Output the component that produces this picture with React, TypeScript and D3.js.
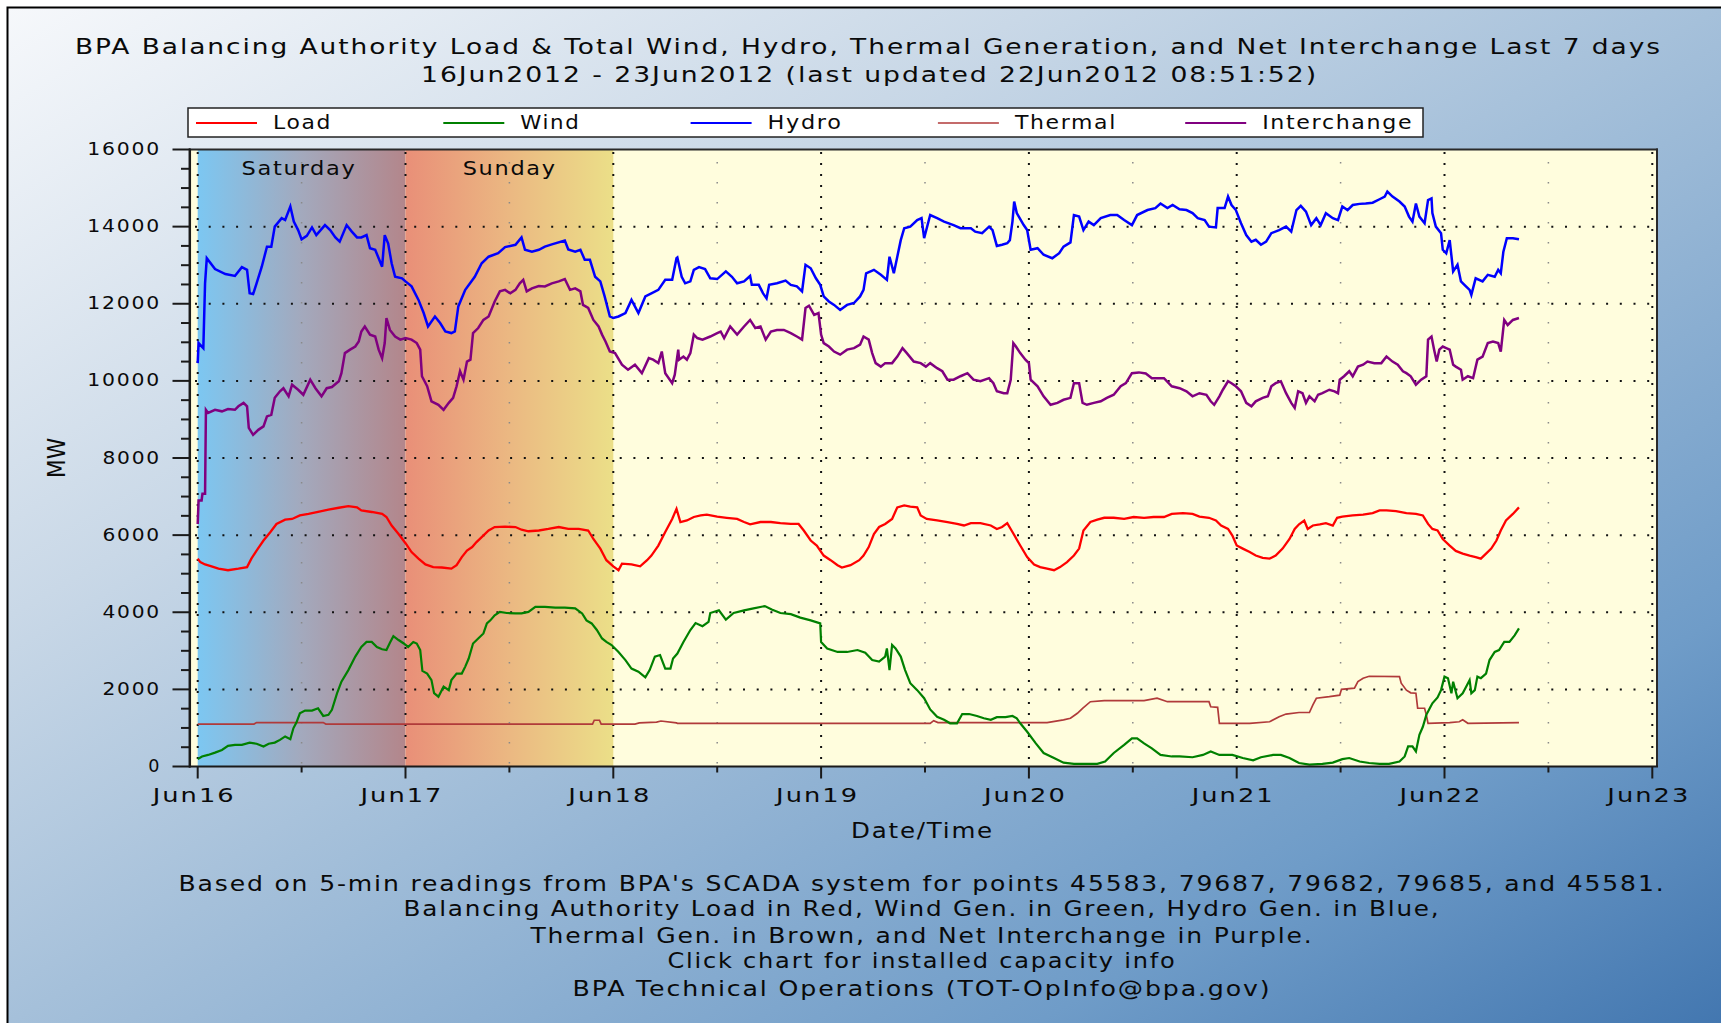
import React from "react";
import * as d3 from "d3";

// ---------- data (hours since 16Jun2012 00:00, MW) ----------
const dayLabels = ["Jun16", "Jun17", "Jun18", "Jun19", "Jun20", "Jun21", "Jun22", "Jun23"];
const yTicks = [0, 2000, 4000, 6000, 8000, 10000, 12000, 14000, 16000];
const legendNames = ["Load", "Wind", "Hydro", "Thermal", "Interchange"];
const legendWidths = [59, 60, 75, 102, 151];
const seriesColors = ["#ff0000", "#008000", "#0000ff", "#b03a3a", "#800080"];
const footerLines = [
  "Based on 5-min readings from BPA's SCADA system for points 45583, 79687, 79682, 79685, and 45581.",
  "Balancing Authority Load in Red, Wind Gen. in Green, Hydro Gen. in Blue,",
  "Thermal Gen. in Brown, and Net Interchange in Purple.",
  "Click chart for installed capacity info",
  "BPA Technical Operations (TOT-OpInfo@bpa.gov)",
];
const footerWidths = [1487, 1037, 783, 509, 699];

const hydro: [number, number][] = [
  [0,10460],[0.1,10980],[0.65,10850],[0.85,12530],[1.05,13180],[2.0,12900],[3.2,12770],[4.3,12720],[5.1,12950],[5.7,12880],[6.0,12270],[6.4,12250],[6.8,12530],[7.4,12960],[8.0,13480],[8.5,13480],[8.9,14000],[9.7,14220],[10.1,14170],[10.7,14520],[11.1,14130],[11.6,13910],[12.0,13670],[12.6,13760],[13.2,13980],[13.7,13780],[14.7,14040],[15.3,13910],[15.9,13720],[16.4,13610],[17.2,14040],[17.8,13870],[18.4,13720],[18.9,13720],[19.5,13780],[19.9,13440],[20.5,13400],[20.9,13180],[21.3,12960],[21.6,13780],[22.0,13560],[22.4,13050],[22.8,12700],[23.6,12660],[24.0,12580],[24.7,12450],[25.5,12100],[26.1,11760],[26.6,11410],[27.4,11670],[28.0,11500],[28.6,11280],[29.3,11240],[29.7,11280],[30.1,11930],[30.9,12360],[32.0,12700],[32.8,13050],[33.6,13220],[34.7,13310],[35.5,13470],[36.7,13530],[37.4,13720],[37.8,13400],[38.6,13350],[39.4,13400],[40.1,13480],[40.9,13540],[42.4,13640],[42.8,13410],[43.6,13350],[44.2,13400],[44.7,13140],[45.3,13140],[45.9,12700],[46.5,12580],[47.0,12190],[47.6,11670],[48.0,11630],[48.6,11670],[49.4,11760],[50.1,12100],[50.9,11760],[51.7,12190],[52.4,12270],[53.2,12360],[54.0,12620],[54.8,12620],[55.3,13180],
  [55.4,13200],[55.9,12700],[56.3,12530],[56.9,12580],[57.3,12880],[57.9,12950],[58.6,12900],[59.2,12660],[60.0,12640],[61.0,12840],[61.7,12700],[62.3,12530],[63.1,12580],[63.8,12720],[64.0,12490],[64.8,12490],[65.3,12270],[65.7,12140],[66.0,12490],[66.9,12530],[67.9,12600],[68.5,12490],[69.2,12450],[69.8,12320],[70.2,13010],[70.8,12920],[71.4,12660],[71.9,12490],[72.3,12190],[72.9,12060],[73.5,11970],[74.2,11840],[75.0,11970],[75.8,12020],[76.5,12190],[76.9,12360],[77.2,12790],[78.1,12880],[78.9,12750],[79.6,12620],[79.9,13220],[80.4,12790],[80.8,13220],[81.2,13650],[81.6,13960],[82.3,14000],[83.1,14170],[83.6,14220],[83.9,13700],[84.6,14300],[85.4,14220],[86.2,14130],[87.3,14040],[88.1,13960],[89.3,13960],[89.8,13870],[90.6,13830],[91.4,14000],[91.8,13910],[92.3,13500],[92.9,13530],[93.5,13570],[93.8,13650],[94.1,14130],[94.3,14650],[94.6,14350],[95.4,14040],[95.8,13910],[96.2,13400],[97.0,13440],[97.7,13270],[98.7,13180],[99.5,13310],[100.0,13480],[100.8,13590],[101.2,14300],[101.8,14260],[102.3,13910],[102.9,14130],[103.5,14040],[104.3,14220],[105.4,14300],[106.2,14300],[107.0,14170],[107.9,14040],[108.5,14300],[109.7,14430],[110.6,14480],[111.2,14600],[112.0,14480],
  [112.6,14560],[113.4,14450],[114.2,14430],[114.9,14350],[115.5,14220],[116.3,14170],[116.8,14000],[117.6,13980],[117.8,14480],[118.6,14480],[119.0,14780],[119.4,14560],[119.9,14430],[120.5,14090],[121.1,13780],[121.7,13610],[122.2,13660],[122.8,13530],[123.4,13610],[124.0,13830],[124.9,13910],[125.7,14000],[126.3,13870],[126.9,14430],[127.4,14540],[128.0,14390],[128.6,14040],[129.2,14220],[129.7,14040],[130.3,14350],[131.1,14220],[131.7,14170],[132.2,14520],[132.8,14430],[133.4,14560],[134.2,14590],[134.9,14600],[135.7,14620],[136.5,14710],[137.1,14780],[137.4,14910],[138.0,14780],[138.8,14650],[139.4,14520],[139.9,14260],[140.3,14130],[140.7,14600],[141.1,14260],[141.7,14090],[142.1,14690],[142.5,14730],[142.6,14350],[143.0,14000],[143.6,13830],[143.8,13400],[144.2,13310],[144.6,13650],[145.0,12840],[145.5,13010],[145.9,12580],[146.3,12490],[146.9,12360],[147.1,12230],[147.6,12660],[148.4,12580],[149.0,12750],[149.8,12700],[150.2,12880],[150.5,12790],[150.8,13350],[151.2,13700],[151.9,13700],[152.6,13670],
];

const interchange: [number, number][] = [
  [0,6290],[0.1,6900],[0.45,6900],[0.55,7070],[0.85,7070],[0.95,9250],[1.2,9170],[2.0,9250],[2.8,9210],[3.5,9270],[4.3,9250],[4.7,9340],[5.3,9430],[5.7,9340],[5.9,8780],[6.4,8600],[7.0,8730],[7.6,8820],[8.0,9080],[8.5,9120],[8.9,9560],[9.5,9730],[9.9,9810],[10.5,9600],[10.9,9900],[11.6,9770],[12.2,9640],[13.0,10030],[13.6,9810],[14.3,9600],[14.9,9810],[15.5,9840],[16.3,9990],[16.6,10200],[17.0,10720],[17.6,10810],[18.2,10890],[18.6,11020],[18.9,11280],[19.3,11410],[19.9,11200],[20.5,11150],[20.9,10810],[21.3,10590],[21.6,10980],[21.8,11630],[22.2,11320],[22.8,11150],[23.4,11070],[24.0,11110],[24.7,11070],[25.3,10980],[25.7,10810],[25.9,10120],[26.5,9860],[27.0,9470],[27.8,9380],[28.4,9250],[29.0,9430],[29.5,9560],[29.9,9860],[30.3,10250],[30.7,10030],[31.1,10500],[31.5,10550],[31.8,11240],[32.4,11370],[33.0,11580],[33.6,11670],[34.3,12060],[34.9,12320],[35.5,12360],[36.1,12270],[36.7,12360],[37.2,12530],[37.6,12620],[38.0,12320],[38.6,12400],[39.4,12460],[40.1,12450],[40.9,12530],[41.7,12580],[42.4,12640],[43.0,12360],[43.6,12400],[44.2,12320],[44.5,11970],[45.1,11890],[45.7,11580],[46.3,11410],[46.7,11200],[47.1,11020],[47.6,10760],[48.2,10720],[49.0,10420],[49.7,10290],[50.5,10420],[51.3,10200],[52.1,10590],[52.6,10550],[53.2,10460],[53.6,10760],[54.0,10200],[54.8,9940],[55.1,10160],
  [55.5,10810],[55.6,10550],[56.1,10630],[56.5,10550],[56.9,10720],[57.3,11200],[57.7,11110],[58.3,11070],[59.2,11150],[60.0,11240],[60.4,11280],[60.8,11110],[61.5,11410],[62.3,11200],[63.1,11410],[63.8,11580],[64.4,11370],[65.0,11410],[65.6,11070],[66.2,11280],[66.9,11320],[67.7,11320],[68.5,11240],[69.2,11150],[69.8,11070],[70.2,11890],[70.6,11950],[71.2,11710],[71.7,11760],[72.0,11200],[72.3,10980],[72.9,10890],[73.5,10760],[74.2,10680],[75.0,10810],[75.8,10850],[76.5,10940],[76.9,11150],[77.5,11070],[77.9,10720],[78.3,10460],[78.9,10370],[79.4,10460],[80.2,10460],[80.8,10630],[81.4,10850],[81.9,10720],[82.7,10500],[83.5,10460],[84.1,10370],[84.6,10460],[85.4,10330],[86.0,10250],[86.6,10030],[87.3,10030],[88.1,10120],[88.9,10200],[89.6,10030],[90.4,9990],[91.4,10070],[91.9,9940],[92.3,9730],[93.1,9680],[93.5,9680],[93.9,10030],[94.2,10980],[94.5,10890],[95.0,10720],[95.6,10550],[96.0,10460],[96.2,10030],[97.0,9860],[97.7,9600],[98.5,9380],[99.3,9430],[100.0,9510],[100.8,9560],[101.2,9940],[101.8,9940],[102.2,9430],[102.7,9380],[103.5,9430],[104.3,9470],[105.0,9560],[105.8,9640],[106.6,9860],[107.2,9940],[107.9,10200],[108.7,10220],[109.5,10190],[110.2,10070],[111.0,10070],[111.6,10070],[112.5,9860],
  [113.4,9810],[114.2,9730],[114.9,9600],[115.7,9680],[116.5,9640],[117.0,9470],[117.4,9380],[118.0,9600],[118.4,9770],[119.0,9990],[119.4,9940],[119.9,9860],[120.5,9730],[121.1,9430],[121.7,9340],[122.2,9470],[123.0,9560],[123.6,9600],[124.0,9860],[124.5,9940],[125.1,9990],[125.7,9680],[126.3,9430],[126.7,9300],[127.1,9730],[127.6,9680],[128.0,9430],[128.4,9600],[129.0,9470],[129.4,9640],[129.9,9680],[130.7,9770],[131.3,9730],[131.7,9680],[131.9,10030],[132.4,10120],[133.0,10250],[133.4,10120],[134.0,10370],[134.6,10420],[135.1,10500],[135.9,10460],[136.7,10460],[137.3,10630],[138.0,10500],[138.6,10420],[139.2,10250],[139.6,10200],[140.1,10120],[140.7,9900],[141.3,10030],[141.9,10120],[142.1,11070],[142.5,11150],[142.8,10810],[143.1,10500],[143.4,10810],[143.8,10890],[144.2,10850],[144.6,10810],[145.0,10420],[145.3,10370],[145.9,10290],[146.1,10030],[146.7,10120],[147.3,10070],[147.8,10550],[148.4,10630],[149.0,10980],[149.6,11020],[150.2,10980],[150.5,10760],[150.9,11580],[151.3,11450],[151.9,11580],[152.6,11630],
];

const load: [number, number][] = [
  [0,5390],[0.3,5300],[0.85,5240],[1.6,5190],[2.4,5130],[3.5,5090],[4.7,5130],[5.7,5170],[6.2,5390],[6.8,5600],[7.6,5860],[8.4,6080],[9.1,6290],[10.1,6400],[10.9,6420],[11.8,6510],[12.8,6550],[13.9,6600],[15.1,6660],[16.3,6710],[17.4,6750],[18.4,6720],[18.9,6640],[20.1,6600],[21.3,6550],[21.8,6470],[22.4,6250],[23.2,6030],[24.0,5790],[24.7,5560],[25.5,5390],[26.3,5240],[27.2,5170],[28.2,5160],[29.3,5130],[29.9,5220],[30.5,5430],[31.1,5600],[31.7,5690],[32.2,5820],[32.8,5950],[33.6,6120],[34.3,6210],[35.5,6220],[36.7,6210],[37.4,6140],[38.2,6100],[39.4,6120],[40.5,6160],[41.7,6210],[42.8,6160],[44.0,6160],[45.1,6120],[45.7,5900],[46.5,5650],[47.2,5350],[48.0,5190],[48.6,5090],[49.0,5260],[50.1,5240],[51.1,5190],[51.9,5350],[52.4,5470],[53.2,5730],[54.0,6080],[54.8,6420],[55.3,6680],
  [55.75,6340],[56.5,6380],[57.3,6470],[58.1,6510],[58.8,6530],[60.0,6480],[61.1,6450],[62.3,6420],[63.1,6340],[63.8,6280],[65.0,6340],[66.2,6340],[67.3,6310],[68.5,6290],[69.4,6290],[70.0,6120],[70.8,5860],[71.5,5730],[72.3,5470],[73.1,5350],[73.9,5220],[74.4,5160],[75.4,5220],[76.4,5350],[76.9,5470],[77.5,5690],[78.1,6030],[78.7,6210],[79.4,6290],[80.2,6420],[80.8,6720],[81.6,6770],[82.3,6740],[83.1,6720],[83.5,6510],[84.2,6420],[85.4,6380],[86.6,6340],[87.7,6290],[88.5,6250],[89.3,6310],[90.4,6310],[91.6,6250],[92.3,6160],[92.9,6210],[93.5,6310],[94.1,6080],[95.0,5730],[95.8,5430],[96.6,5240],[97.3,5170],[98.1,5130],[98.9,5090],[99.6,5170],[100.4,5300],[101.2,5470],[101.8,5650],[102.3,6120],[103.1,6340],[103.9,6400],[104.7,6450],[105.8,6450],[107.0,6420],[108.1,6470],[109.3,6450],[110.4,6470],[111.6,6470],[112.5,6550],
  [113.8,6570],[114.9,6550],[115.7,6480],[116.8,6450],[117.6,6380],[118.2,6250],[119.0,6160],[119.5,5990],[120.0,5730],[120.7,5650],[121.5,5560],[122.2,5470],[123.0,5410],[123.8,5390],[124.5,5470],[125.3,5650],[126.1,5900],[126.7,6160],[127.2,6280],[127.8,6380],[128.2,6160],[128.8,6250],[129.6,6280],[130.3,6310],[131.1,6250],[131.6,6450],[132.2,6480],[133.4,6510],[134.6,6530],[135.7,6570],[136.5,6640],[137.3,6640],[138.4,6620],[139.6,6570],[140.7,6550],[141.5,6510],[142.1,6290],[142.6,6160],[143.2,6120],[143.8,5900],[144.6,5730],[145.3,5590],[146.1,5520],[146.9,5470],[147.6,5430],[148.2,5390],[148.8,5520],[149.4,5650],[150.0,5860],[150.5,6120],[151.1,6380],[151.9,6550],[152.6,6720],
];

const wind: [number, number][] = [
  [0,190],[0.5,260],[1.2,300],[2.0,360],[2.8,430],[3.5,535],[4.3,560],[5.1,560],[6.0,620],[6.8,590],[7.6,520],[8.2,590],[8.9,620],[9.5,690],[10.1,780],[10.7,710],[11.05,990],[11.4,1140],[11.8,1380],[12.4,1450],[13.2,1450],[13.9,1510],[14.5,1310],[15.1,1340],[15.5,1470],[16.1,1900],[16.6,2200],[17.4,2500],[18.2,2850],[18.9,3100],[19.5,3230],[20.1,3230],[20.7,3100],[21.3,3040],[21.8,3020],[22.2,3210],[22.6,3380],[23.2,3280],[23.8,3190],[24.3,3100],[24.9,3230],[25.3,3190],[25.7,3020],[25.95,2480],[26.5,2410],[27.0,2240],[27.3,1900],[27.8,1810],[28.4,2070],[29.0,1980],[29.3,2240],[29.9,2410],[30.5,2410],[30.9,2590],[31.3,2800],[31.8,3190],[32.4,3320],[33.0,3450],[33.4,3710],[33.8,3790],[34.3,3920],[34.9,4010],[35.7,3980],[36.7,3970],[37.4,3970],[38.2,4010],[39.0,4140],[40.1,4140],[41.3,4120],[42.4,4120],[43.6,4100],[44.4,3970],[44.9,3790],[45.5,3710],[46.1,3540],[46.7,3320],[47.2,3230],[47.8,3150],[48.6,2970],[49.4,2760],[50.1,2540],[50.9,2460],[51.7,2310],[52.2,2500],[52.8,2850],[53.4,2890],[54.0,2540],[54.6,2540],[54.9,2800],[55.4,2930],
  [56.1,3230],[56.9,3540],[57.5,3720],[58.3,3640],[59.0,3750],[59.2,3980],[60.2,4050],[61.0,3810],[61.9,3980],[63.1,4050],[64.2,4100],[65.5,4160],[66.3,4070],[67.3,3980],[68.5,3950],[69.6,3860],[70.8,3790],[71.9,3710],[72.0,3230],[72.7,3060],[73.9,2970],[75.0,2970],[76.2,3020],[77.1,2950],[77.9,2760],[78.7,2720],[79.4,2850],[79.6,3060],[79.9,2500],[80.2,3150],[80.6,3060],[81.2,2850],[81.7,2500],[82.3,2160],[83.1,1980],[83.9,1770],[84.6,1480],[85.4,1290],[86.2,1210],[86.9,1120],[87.7,1120],[88.3,1360],[89.1,1360],[90.0,1310],[90.8,1250],[91.6,1210],[92.3,1280],[93.3,1280],[94.1,1310],[94.6,1250],[95.0,1120],[95.8,900],[96.8,600],[97.7,350],[98.9,220],[100.0,100],[101.2,70],[102.3,70],[103.9,70],[104.8,130],[105.8,350],[107.0,560],[107.9,730],[108.5,730],[109.3,600],[110.2,470],[111.2,300],[112.5,260],
  [113.4,260],[114.9,240],[116.1,300],[117.0,390],[118.0,300],[119.5,300],[120.7,220],[121.9,160],[122.8,240],[124.2,300],[125.1,300],[126.1,220],[127.2,90],[128.4,50],[129.9,70],[131.1,100],[132.2,190],[133.0,220],[134.2,130],[135.3,90],[136.5,70],[137.6,70],[138.8,130],[139.4,260],[139.8,520],[140.3,520],[140.7,390],[141.1,820],[141.5,1030],[141.9,1340],[142.3,1510],[142.6,1640],[143.2,1790],[143.6,1980],[144.0,2330],[144.4,2290],[144.8,1900],[145.0,2200],[145.5,1770],[146.1,1900],[146.5,2070],[146.9,2240],[147.1,1900],[147.5,1980],[147.8,2330],[148.2,2290],[148.8,2410],[149.2,2760],[149.8,2970],[150.3,3020],[150.9,3230],[151.5,3230],[152.1,3400],[152.6,3580],
];

const thermal: [number, number][] = [
  [0,1100],[6.5,1100],[6.8,1140],[14.5,1140],[14.8,1100],[45.6,1100],[45.8,1200],[46.4,1200],[46.6,1100],[50.5,1100],[51,1130],[53,1150],[53.5,1180],[55.3,1130],
  [55.4,1120],[84.6,1120],[85.0,1190],[85.5,1140],[97.7,1140],[98.1,1140],[100.0,1210],[100.8,1250],[101.6,1380],[102.2,1510],[103.1,1680],[104.7,1710],[107.3,1710],[109.3,1710],[110.8,1770],[112.0,1680],
  [116.8,1680],[117.0,1550],[117.8,1535],[118.0,1120],[121.5,1120],[123.8,1160],[124.9,1290],[125.7,1360],[127.2,1400],[128.4,1400],[128.8,1600],[129.2,1770],[130.7,1810],[131.9,1850],[132.1,2000],[133.6,2030],[134.0,2200],[134.6,2290],[135.3,2340],[138.8,2330],[139.0,2160],[139.6,1980],[140.1,1910],[140.7,1900],[140.9,1510],[141.7,1510],[141.9,1340],[142.1,1120],[144.6,1140],[145.7,1160],[146.1,1210],[146.7,1120],[152.6,1140],
];

const FONT = "'DejaVu Sans', Verdana, sans-serif";

function T(props: any) {
  const { children, len, ...rest } = props;
  return (
    <text
      fontFamily={FONT}
      fill="#0a0a0a"
      letterSpacing={1.5}
      textLength={len}
      lengthAdjust="spacingAndGlyphs"
      {...rest}
    >
      {children}
    </text>
  );
}

export default function App() {
  const PL = 191, PR = 1657, PT = 150, PB = 766.5;
  const x = d3.scaleLinear().domain([0, 168]).range([197.7, 1652.3]);
  const y = d3.scaleLinear().domain([0, 16000]).range([766.5, 149.5]);
  const line = d3.line<[number, number]>().x((d) => x(d[0])).y((d) => y(d[1]));

  const series: { data: [number, number][]; color: string; w: number }[] = [
    { data: thermal, color: seriesColors[3], w: 1.7 },
    { data: wind, color: seriesColors[1], w: 2.2 },
    { data: load, color: seriesColors[0], w: 2.3 },
    { data: interchange, color: seriesColors[4], w: 2.5 },
    { data: hydro, color: seriesColors[2], w: 2.5 },
  ];

  const dayHours = dayLabels.map((_, i) => i * 24);
  const halfHours = dayLabels.slice(0, 7).map((_, i) => i * 24 + 12);
  const minorY = d3.range(500, 16000, 500).filter((v) => v % 2000 !== 0);

  return (
    <svg
      width={1721}
      height={1023}
      style={{ position: "absolute", left: 0, top: 0, display: "block" }}
    >
      <defs>
        <linearGradient id="bg" x1="0" y1="0" x2="1" y2="1">
          <stop offset="0" stopColor="#f6f8fb" />
          <stop offset="0.3" stopColor="#c9d8e7" />
          <stop offset="0.5" stopColor="#a5c0da" />
          <stop offset="0.8" stopColor="#6f9cc8" />
          <stop offset="1" stopColor="#4377b0" />
        </linearGradient>
        <linearGradient id="sat" x1="0" y1="0" x2="1" y2="0">
          <stop offset="0" stopColor="#7cc7f2" />
          <stop offset="0.5" stopColor="#a3a9bd" />
          <stop offset="1" stopColor="#b3868b" />
        </linearGradient>
        <linearGradient id="sun" x1="0" y1="0" x2="1" y2="0">
          <stop offset="0" stopColor="#e98f78" />
          <stop offset="0.5" stopColor="#ebb882" />
          <stop offset="1" stopColor="#ebdf88" />
        </linearGradient>
        <clipPath id="plotclip">
          <rect x={PL} y={PT} width={PR - PL} height={PB - PT} />
        </clipPath>
      </defs>

      <rect x={0} y={0} width={1721} height={1023} fill="#fff" />
      <rect x={8} y={8} width={1713} height={1015} fill="url(#bg)" />
      <path d="M7.5,1023 V7.5 H1721" fill="none" stroke="#000" strokeWidth={2} />

      {/* Title */}
      <T x={868.5} y={54} fontSize={20.5} textAnchor="middle" len={1587}>
        BPA Balancing Authority Load &amp; Total Wind, Hydro, Thermal Generation, and Net Interchange Last 7 days
      </T>
      <T x={869.5} y={82} fontSize={20.5} textAnchor="middle" len={897}>
        16Jun2012 - 23Jun2012 (last updated 22Jun2012 08:51:52)
      </T>

      {/* Legend */}
      <rect x={188} y={108} width={1235} height={29} fill="#fff" stroke="#222" strokeWidth={1.5} />
      {legendNames.map((n, i) => {
        const lx = 196 + i * 247.3;
        return (
          <g key={n}>
            <line x1={lx} x2={lx + 61} y1={123} y2={123} stroke={seriesColors[i]} strokeWidth={i === 3 ? 1.6 : 1.8} />
            <T x={lx + 77} y={128.5} fontSize={20} len={legendWidths[i]}>
              {n}
            </T>
          </g>
        );
      })}

      {/* Plot background */}
      <rect x={PL} y={PT} width={PR - PL} height={PB - PT} fill="#fffddd" />
      <rect x={x(0)} y={PT} width={x(24) - x(0)} height={PB - PT} fill="url(#sat)" />
      <rect x={x(24)} y={PT} width={x(48) - x(24)} height={PB - PT} fill="url(#sun)" />

      {/* Grid */}
      <g clipPath="url(#plotclip)">
        {yTicks.slice(1, 8).map((v) => (
          <line key={v} x1={PL + 4} x2={PR} y1={y(v)} y2={y(v)} stroke="#111" strokeWidth={2} strokeDasharray="2 11.7" />
        ))}
        {halfHours.concat([168 + 12]).map((h) => (
          <line key={"m" + h} x1={x(h)} x2={x(h)} y1={PT + 12} y2={PB} stroke="#8a8a8a" strokeWidth={1.5} strokeDasharray="1.5 18.5" />
        ))}
        {dayHours.map((h) => (
          <line key={"d" + h} x1={x(h)} x2={x(h)} y1={PT + 2} y2={PB} stroke="#111" strokeWidth={2} strokeDasharray="2 9" />
        ))}
      </g>

      <T x={299} y={175} fontSize={20} textAnchor="middle" len={115}>Saturday</T>
      <T x={509.7} y={175} fontSize={20} textAnchor="middle" len={94}>Sunday</T>

      {/* Series */}
      <g clipPath="url(#plotclip)">
        {series.map((s, i) => (
          <path key={i} d={line(s.data) || ""} fill="none" stroke={s.color} strokeWidth={s.w} strokeLinejoin="miter" />
        ))}
      </g>

      {/* Frame & axes */}
      <line x1={PL - 2} x2={PR + 1} y1={149.5} y2={149.5} stroke="#2a2a2a" strokeWidth={2} />
      <line x1={PR} x2={PR} y1={148.5} y2={PB} stroke="#2a2a2a" strokeWidth={2} />
      <line x1={189.8} x2={189.8} y1={148.5} y2={PB + 1} stroke="#1a1a1a" strokeWidth={2.5} />
      <line x1={189} x2={PR + 1} y1={PB} y2={PB} stroke="#1a1a1a" strokeWidth={2} />

      {/* Y ticks */}
      {yTicks.map((v) => (
        <g key={"yt" + v}>
          <line x1={172.5} x2={190} y1={y(v)} y2={y(v)} stroke="#1a1a1a" strokeWidth={2} />
          <T x={161} y={y(v) + 5.5} fontSize={17} textAnchor="end" len={15.25 * String(v).length - 2.5}>
            {String(v)}
          </T>
        </g>
      ))}
      {minorY.map((v) => (
        <line key={"ym" + v} x1={181} x2={190} y1={y(v)} y2={y(v)} stroke="#1a1a1a" strokeWidth={2} />
      ))}
      <T
        x={0}
        y={0}
        fontSize={25}
        letterSpacing={0}
        textAnchor="middle"
        len={40}
        transform="translate(65,458) rotate(-90)"
      >
        MW
      </T>

      {/* X ticks */}
      {dayHours.map((h, i) => (
        <g key={"xt" + h}>
          <line x1={x(h)} x2={x(h)} y1={PB} y2={778.5} stroke="#1a1a1a" strokeWidth={2} />
          <T x={x(h) - 3.5} y={801.7} fontSize={19} textAnchor="middle" len={83}>
            {dayLabels[i]}
          </T>
        </g>
      ))}
      {halfHours.map((h) => (
        <line key={"xm" + h} x1={x(h)} x2={x(h)} y1={PB} y2={772.5} stroke="#1a1a1a" strokeWidth={2} />
      ))}
      <T x={922.5} y={837.5} fontSize={20.5} textAnchor="middle" len={143}>
        Date/Time
      </T>

      {/* Footer */}
      {footerLines.map((t, i) => (
        <T key={i} x={922} y={[891, 916.3, 942.7, 968.3, 995.7][i]} fontSize={20.5} textAnchor="middle" len={footerWidths[i]}>
          {t}
        </T>
      ))}
    </svg>
  );
}
